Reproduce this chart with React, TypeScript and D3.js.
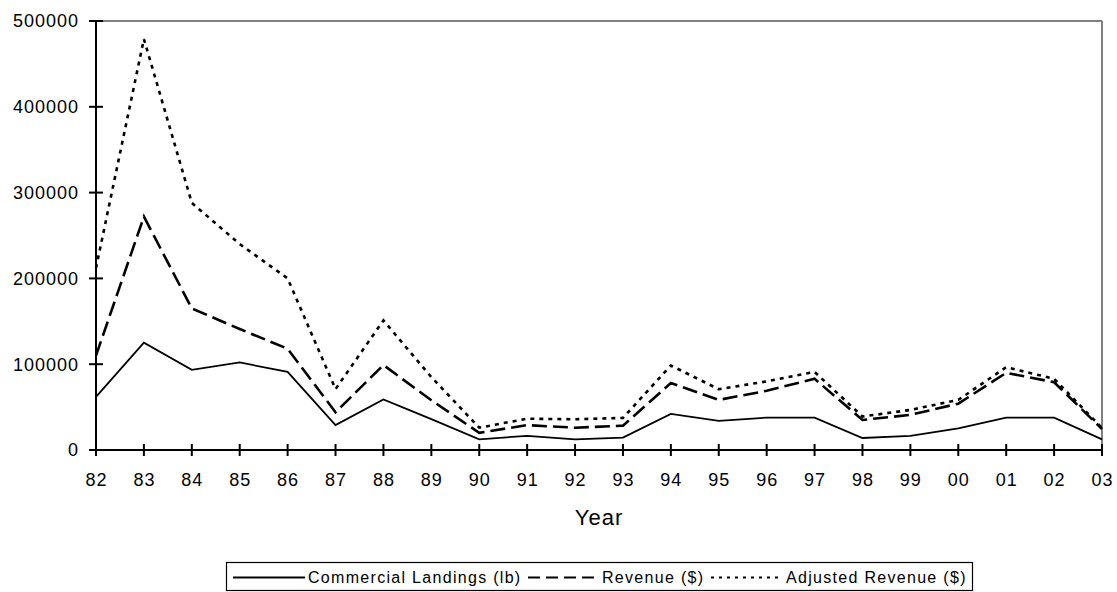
import React, { useEffect } from "react";
import * as d3 from "d3";

const years = ["82","83","84","85","86","87","88","89","90","91","92","93","94","95","96","97","98","99","00","01","02","03"];
const landings = [62000,125000,93500,102000,91000,29000,59000,36000,12500,16500,12400,14400,42000,34000,37700,37700,14000,16400,25300,37700,37700,12400];
const revenue = [110000,272000,165000,141000,118000,44000,99000,58000,20000,29000,26000,28400,78000,58400,69000,83000,35000,41000,54000,90000,79000,24500];
const adjusted = [212000,479000,288000,240000,200000,71000,151000,85000,26000,36500,35800,37400,98500,70800,80000,91000,39000,46700,58400,96500,83000,25700];
const yTicks = [0,100000,200000,300000,400000,500000];
const seriesNames = ["Commercial Landings (lb)", "Revenue ($)", "Adjusted Revenue ($)"];

const W = 1117, H = 592;
const left = 96, right = 1102, top = 21, bottom = 450;
const FONT = "Arial, 'Liberation Sans', sans-serif";

export default function App() {
  useEffect(() => {
    document.body.style.margin = "0";
  }, []);
  const x = d3.scalePoint<string>().domain(years).range([left, right]);
  const y = d3.scaleLinear().domain([0, 500000]).range([bottom, top]);
  const line = d3.line<number>().x((_, i) => x(years[i]) as number).y(d => y(d));
  const styles = [
    { dash: undefined, width: 1.8 },
    { dash: "15,6", width: 2.6 },
    { dash: "4,5", width: 2.6 },
  ];
  const data = [landings, revenue, adjusted];
  // legend layout
  const legY = 577.5;
  const keys = [
    { x1: 233, x2: 305, tx: 308 },
    { x1: 528, x2: 600, tx: 602 },
    { x1: 711, x2: 783, tx: 786 },
  ];
  return (
    <svg width={W} height={H} style={{ display: "block", background: "#fff" }}>
      {/* plot border top/right */}
      <line x1={left} x2={right} y1={top} y2={top} stroke="#808080" strokeWidth={2} />
      <line x1={right} x2={right} y1={top} y2={bottom} stroke="#808080" strokeWidth={2} />
      {/* series */}
      {data.map((d, i) => (
        <path key={i} d={line(d) || ""} fill="none" stroke="#000" strokeWidth={styles[i].width}
          strokeDasharray={styles[i].dash} strokeLinejoin="miter" />
      ))}
      {/* axes */}
      <line x1={left} x2={left} y1={top} y2={bottom} stroke="#000" strokeWidth={2} />
      <line x1={left} x2={right} y1={bottom} y2={bottom} stroke="#000" strokeWidth={2} />
      {yTicks.map(t => (
        <g key={t}>
          <line x1={left - 7} x2={left + 7} y1={y(t)} y2={y(t)} stroke="#000" strokeWidth={2} />
          <text x={79} y={y(t)} dy="0.35em" textAnchor="end" fontFamily={FONT} fontSize={18} letterSpacing={1}>{String(t)}</text>
        </g>
      ))}
      {years.map(yr => (
        <g key={yr}>
          <line x1={x(yr)} x2={x(yr)} y1={bottom - 6} y2={bottom + 6} stroke="#000" strokeWidth={2} />
          <text x={(x(yr) as number) + 0.5} y={486} textAnchor="middle" fontFamily={FONT} fontSize={18} letterSpacing={1}>{yr}</text>
        </g>
      ))}
      <text x={(left + right) / 2} y={525} textAnchor="middle" fontFamily={FONT} fontSize={22} letterSpacing={1}>Year</text>
      {/* legend */}
      <rect x={226.5} y={562.5} width={746} height={28} fill="#fff" stroke="#000" strokeWidth={1.2} />
      {keys.map((k, i) => (
        <g key={i}>
          <line x1={k.x1} x2={k.x2} y1={legY} y2={legY} stroke="#000" strokeWidth={2}
            strokeDasharray={i === 0 ? undefined : i === 1 ? "12,6" : "3,5"} />
          <text x={k.tx} y={legY} dy="0.35em" fontFamily={FONT} fontSize={16} letterSpacing={1.3}>{seriesNames[i]}</text>
        </g>
      ))}
    </svg>
  );
}
